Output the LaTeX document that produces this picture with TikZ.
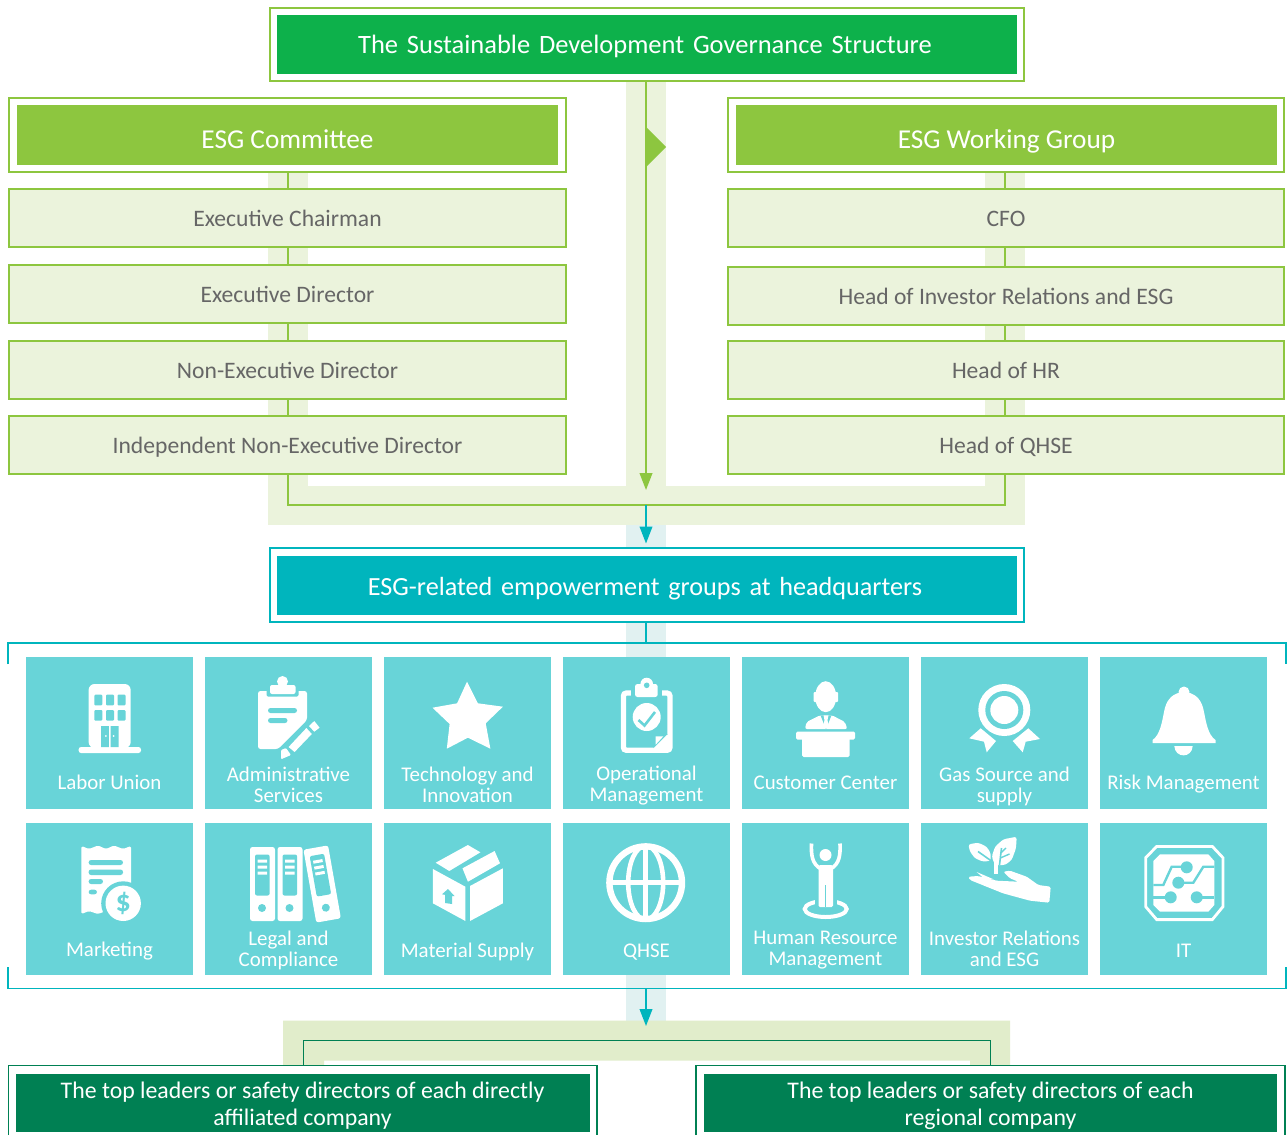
\documentclass[tikz,border=0pt]{standalone}
\usepackage{fontspec}
\setmainfont{Carlito}
\usetikzlibrary{arrows.meta}
\definecolor{govgreen}{HTML}{0DB14B}
\definecolor{limegreen}{HTML}{8DC63F}
\definecolor{rowfill}{HTML}{EBF3DC}
\definecolor{rowtext}{HTML}{666666}
\definecolor{hqteal}{HTML}{00B5BD}
\definecolor{tileteal}{HTML}{68D4D8}
\definecolor{paleteal}{HTML}{E1F1F1}
\definecolor{deepgreen}{HTML}{008053}
\definecolor{palelime}{HTML}{E1EDCB}
\tikzset{
  framebox/.style={draw,line width=2pt,fill=white,inner sep=0pt},
  headbox/.style={text=white,inner sep=0pt,align=center,text height=23pt,text depth=4.6pt,font=\fontsize{26.5}{28}\selectfont},
  lowhead/.style={text height=29pt,text depth=1.6pt,font=\fontsize{27.3}{28}\selectfont},
  rowbox/.style={draw=limegreen,line width=2pt,fill=rowfill,text=rowtext,inner sep=0pt,
    text height=20pt,text depth=4pt,minimum width=556.5pt,minimum height=58pt,font=\fontsize{23.6}{26}\selectfont},
  tilebox/.style={fill=tileteal,inner sep=0pt,minimum width=167pt,minimum height=152pt},
  tiletext/.style={text=white,inner sep=0pt,align=center,yshift=-3.3pt,font=\fontsize{20.9}{21}\selectfont,
    execute at begin node=\strut,execute at end node=\strut},
  deeptext/.style={text=white,inner sep=0pt,align=center,font=\fontsize{23.8}{27.5}\selectfont,
    execute at begin node=\strut,execute at end node=\strut},
  limeline/.style={draw=limegreen,line width=1.8pt},
  tealline/.style={draw=hqteal,line width=1.6pt},
  deepline/.style={draw=deepgreen,line width=1.6pt},
  cut/.style={fill=tileteal},
  cutline/.style={draw=tileteal,line width=2.4pt},
  iconline/.style={draw=white,line width=4.6pt}
}
\newcommand{\drawbinder}[1]{
  \begin{scope}[xshift=#1pt]
    \fill[white,rounded corners=2.5pt] (0,847) rectangle (25,921);
    \fill[cut,rounded corners=2pt] (5,854.5) rectangle (19.6,895.5);
    \fill[white] (7.5,859.5) rectangle (17,862.5) (7.5,865.5) rectangle (17,868.5) (7.5,871.5) rectangle (17,874.5);
    \fill[cut] (12,908) circle (4pt);
  \end{scope}
}
\begin{document}
\begin{tikzpicture}[x=1pt,y=-1pt,>={Stealth[length=17pt,width=12.7pt,inset=0pt]}]
  \useasboundingbox[fill=white] (0,0) rectangle (1287,1135);
  % bands
  \fill[rowfill] (626,81) rectangle (666,525);
  \fill[rowfill] (268,172) rectangle (308,525);
  \fill[rowfill] (985,172) rectangle (1025,525);
  \fill[rowfill] (268,486) rectangle (1025,525);
  \fill[paleteal] (626,525) rectangle (666,657);
  \fill[paleteal] (626,975) rectangle (666,1021);
  \fill[palelime] (283,1020.5) -- (1010,1020.5) -- (1010,1066) -- (970,1066) -- (970,1060.5) -- (324,1060.5) -- (324,1066) -- (283,1066) -- cycle;
  \fill[limegreen] (646,127) -- (666,147) -- (646,167) -- cycle;
  % headings
  \node[framebox,draw=limegreen,minimum width=754pt,minimum height=73pt] (govf) at (646.5,44.5) {};
  \node[headbox,fill=govgreen,minimum width=740pt,minimum height=59pt,text width=737pt] (gov) at (647,44.5) {\hspace*{-4pt}The Sustainable Development Governance Structure};
  \node[framebox,draw=limegreen,minimum width=556.5pt,minimum height=74pt] (esgcf) at (287.5,135) {};
  \node[headbox,lowhead,fill=limegreen,minimum width=541pt,minimum height=60pt] (esgc) at (287.5,135) {ESG Committee};
  \node[framebox,draw=limegreen,minimum width=556.5pt,minimum height=74pt] (esgwf) at (1006,135) {};
  \node[headbox,lowhead,fill=limegreen,minimum width=541pt,minimum height=60pt] (esgw) at (1006.5,135) {ESG Working Group};
  \node[framebox,draw=hqteal,minimum width=754pt,minimum height=74pt] (hqf) at (646.5,585) {};
  \node[headbox,fill=hqteal,minimum width=740pt,minimum height=59pt,text width=737pt,text height=25pt,font=\fontsize{26.2}{28}\selectfont] (hq) at (647,585.5) {\hspace*{-4pt}ESG-related empowerment groups at headquarters};
  % rows
  \node[rowbox] (chair) at (287.5,218) {Executive Chairman};
  \node[rowbox] (execd) at (287.5,294) {Executive Director};
  \node[rowbox] (nonexec) at (287.5,370) {Non-Executive Director};
  \node[rowbox] (indep) at (287.5,445) {Independent Non-Executive Director};
  \node[rowbox] (cfo) at (1006,218) {CFO};
  \node[rowbox] (invest) at (1006,296) {Head of Investor Relations and ESG};
  \node[rowbox] (hr) at (1006,370) {Head of HR};
  \node[rowbox] (qhse) at (1006,445) {Head of QHSE};
  % connectors
  \coordinate (greentip) at (646,490);
  \coordinate (joinl) at (288,505);
  \coordinate (joinm) at (646,505);
  \coordinate (joinr) at (1005,505);
  \coordinate (tealtip) at (646,543.5);
  \coordinate (brtop) at (646,643);
  \coordinate (brl) at (8,643);
  \coordinate (brr) at (1286,643);
  \coordinate (brltick) at (8,664);
  \coordinate (brrtick) at (1286,664);
  \coordinate (botl) at (8,988.5);
  \coordinate (botr) at (1286,988.5);
  \coordinate (botltick) at (8,967);
  \coordinate (botrtick) at (1286,967);
  \coordinate (botm) at (646,988.5);
  \coordinate (deeptip) at (646,1026);
  \coordinate (deepl) at (303.5,1040.5);
  \coordinate (deepr) at (990.5,1040.5);
  \coordinate (lefttop) at (303.5,1065.5);
  \coordinate (righttop) at (990.5,1065.5);
  \foreach \a/\b in {esgcf/chair,chair/execd,execd/nonexec,nonexec/indep}
    \draw[limeline] (\a.south -| joinl) -- (\b.north -| joinl);
  \foreach \a/\b in {esgwf/cfo,cfo/invest,invest/hr,hr/qhse}
    \draw[limeline] (\a.south -| joinr) -- (\b.north -| joinr);
  \draw[limeline] (indep.south -| joinl) -- (joinl) -- (joinr) -- (qhse.south -| joinr);
  \draw[limeline,->] (govf.south -| greentip) -- (greentip);
  \draw[tealline,->] (joinm) -- (tealtip);
  \draw[tealline] (hqf.south -| brtop) -- (brtop);
  \draw[tealline] (brltick) -- (brl) -- (brr) -- (brrtick);
  \draw[tealline] (botltick) -- (botl) -- (botr) -- (botrtick);
  \draw[tealline,->] (botm) -- (deeptip);
  \draw[deepline] (lefttop) -- (deepl) -- (deepr) -- (righttop);
  % bottom boxes
  \draw[deepline,fill=white] (8.5,1135) -- (8.5,1065.5) -- (597,1065.5) -- (597,1135);
  \draw[deepline,fill=white] (696,1135) -- (696,1065.5) -- (1285,1065.5) -- (1285,1135);
  \node[fill=deepgreen,inner sep=0pt,minimum width=574pt,minimum height=58pt] (leftco) at (303,1103) {};
  \node[fill=deepgreen,inner sep=0pt,minimum width=573pt,minimum height=58pt] (regco) at (990.5,1103) {};
  \node[deeptext] (leftcotext) at (302.5,1108) {The top leaders or safety directors of each directly\\affiliated company};
  \node[deeptext] (regcotext) at (990.5,1108) {The top leaders or safety directors of each\\regional company};
  % tiles
  \foreach \n/\cx/\cy/\ty/\txt in {
    labor/109.5/733/782/{Labor Union},
    admin/288.5/733/784.5/{Administrative\\Services},
    tech/467.5/733/784.5/{Technology and\\Innovation},
    oper/646.5/733/784/{Operational\\Management},
    cust/825.5/733/782/{Customer Center},
    gas/1004.5/733/785/{Gas Source and\\supply},
    risk/1183.5/733/782/{Risk Management},
    mark/109.5/899/949/{Marketing},
    legal/288.5/899/948.5/{Legal and\\Compliance},
    mat/467.5/899/950/{Material Supply},
    qh/646.5/899/950/{QHSE},
    hres/825.5/899/948.5/{Human Resource\\Management},
    inv/1004.5/899/948.5/{Investor Relations\\and ESG},
    it/1183.5/899/950/{IT}}{
    \node[tilebox] (\n) at (\cx,\cy) {};
    \node[tiletext] (\n text) at (\cx,\ty) {\txt};
  }
  % icon: building
  \fill[white,rounded corners=6pt] (88.6,748) -- (88.6,684) -- (130.7,684) -- (130.7,748) -- cycle;
  \fill[white,rounded corners=2.5pt] (78.6,747) rectangle (141,753);
  \foreach \wx in {94.3,106,117.5}
    \foreach \wy in {694.7,710}
      \fill[cut,rounded corners=1pt] (\wx,\wy) rectangle ++(8,10.6);
  \fill[cut] (101,726) rectangle (108.8,747) (110.6,726) rectangle (118.5,747);
  \fill[white] (105.8,736) circle (1pt) (113.6,736) circle (1pt);
  % icon: clipboard and pencil
  \fill[white,rounded corners=2.5pt] (258,691) -- (307,691) -- (307,720) -- (278,749) -- (258,749) -- cycle;
  \fill[cut,rounded corners=1.5pt] (266.5,686) rectangle (298.5,696.5);
  \fill[white] (282.5,681.5) circle (5.5pt);
  \fill[white,rounded corners=2pt] (270,685) rectangle (295.5,694);
  \fill[cut,rounded corners=2.5pt] (268,708) rectangle (297,713);
  \fill[cut,rounded corners=2.5pt] (268,718) rectangle (287.5,723);
  \fill[white] (288.6,747) -- (306.4,728) -- (311.8,734) -- (294.6,752) -- cycle;
  \fill[white] (309,726) -- (314.3,721) -- (319.6,727.7) -- (314.3,731.7) -- cycle;
  \fill[white,rounded corners=1pt] (281,750) -- (286,748) -- (291,755) -- (281,759.3) -- cycle;
  % icon: star
  \fill[white] (467,681.7) -- (477.9,703.3) -- (502.9,706.7) -- (485.7,723.3) -- (490.4,748.7) -- (467.9,737.7) -- (446.8,748.7) -- (449.6,724) -- (432.5,707.7) -- (457.1,703.3) -- cycle;
  % icon: clipboard with tick
  \draw[white,line width=5.3pt,rounded corners=3pt] (623.4,693) rectangle (670,750.3);
  \fill[cut] (631,686) rectangle (662,697);
  \fill[white,rounded corners=2.5pt] (635,684) rectangle (657.7,697);
  \fill[white] (646.7,684) circle (6.3pt);
  \fill[cut] (646.7,685.3) circle (2.8pt);
  \fill[white] (646.7,717) circle (14pt);
  \draw[tileteal,line width=2.6pt] (638.5,720) -- (644.5,725.5) -- (655,712);
  \fill[white] (654,734.5) rectangle (670,750.3);
  \fill[cut] (653.5,734) -- (667.5,734) -- (653.5,748) -- cycle;
  \fill[white] (655.7,736.3) -- (663.3,736.3) -- (655.7,744.7) -- cycle;
  % icon: person at desk
  \fill[white] (825.7,696.7) ellipse (10.5pt and 15.5pt);
  \fill[white,rounded corners=1pt] (813.5,692) rectangle (838,702);
  \fill[white,rounded corners=2pt] (805,729) -- (806.5,722) -- (820,715.3) -- (832,715.3) -- (845,722) -- (847.3,729) -- cycle;
  \fill[cut] (820.5,715.3) -- (831.5,715.3) -- (826,729) -- cycle;
  \fill[white] (823.5,715.3) -- (828.5,715.3) -- (827.5,720) -- (829,728) -- (823,728) -- (824.5,720) -- cycle;
  \fill[white,rounded corners=1.5pt] (796,731.5) rectangle (855,739.7);
  \fill[white,rounded corners=1.5pt] (802,737) rectangle (849.5,757);
  % icon: medal
  \fill[white] (1004.3,710) circle (26pt);
  \fill[cut] (1004.3,710) circle (19pt);
  \fill[white] (1004.3,710) circle (14pt);
  \fill[white] (969.3,738.3) -- (980.7,728.3) -- (996,741) -- (986.7,752.3) -- (984,741.7) -- cycle;
  \fill[white] (1040,739) -- (1028.3,728.3) -- (1012.7,741) -- (1022.7,752.3) -- (1025.7,741.7) -- cycle;
  % icon: bell
  \fill[white] (1152.5,743) -- (1152.5,740) .. controls (1160,735) and (1162,722) .. (1164,712) .. controls (1166,700) and (1172,695) .. (1178,693) -- (1190,693) .. controls (1196,695) and (1202,700) .. (1204,712) .. controls (1206,722) and (1208,735) .. (1215.5,740) -- (1215.5,743) -- cycle;
  \fill[white] (1184,692) circle (5.5pt);
  \fill[white] (1174.3,746) .. controls (1175,758.5) and (1192,758.5) .. (1192.7,746) -- cycle;
  % icon: receipt and coin
  \fill[white,rounded corners=1.5pt] (81.4,846) -- (89,849) -- (98,845.5) -- (106,849) -- (114,845.5) -- (123,849) -- (131,846) -- (131,914) -- (123,911) -- (114,914) -- (106,911) -- (98,914) -- (89,911) -- (81.4,914) -- cycle;
  \fill[cut,rounded corners=2.5pt] (88.6,860) rectangle (123,865) (88.6,869.5) rectangle (123,875) (88.6,879) rectangle (103,884) (88.6,889.7) rectangle (97,894.3);
  \fill[cut] (123.2,903.3) circle (22pt);
  \fill[white] (123.2,903.3) circle (17.7pt);
  \node[text=tileteal,inner sep=0pt,font=\fontsize{30}{30}\selectfont\bfseries] (dollar) at (123.2,903) {\$};
  % icon: binders
  \drawbinder{250}
  \drawbinder{277.5}
  \begin{scope}[rotate around={10:(322,883)}]
    \drawbinder{309.5}
  \end{scope}
  % icon: box
  \fill[white] (435.7,862.7) -- (467.9,845) -- (480.4,852.3) -- (449.3,871) -- cycle;
  \fill[white] (462.5,868.3) -- (494.6,851) -- (500,863.3) -- (467.9,881.7) -- cycle;
  \fill[white] (432.9,869) -- (465.4,886.7) -- (465.4,921) -- (432.9,903.3) -- cycle;
  \fill[white] (470,886) -- (502.9,868.3) -- (502.9,903.3) -- (470,921) -- cycle;
  \fill[cut] (448,889) -- (442,894.3) -- (445,894.8) -- (445,903) -- (452,904) -- (452,896) -- (454.5,896) -- cycle;
  % icon: globe
  \draw[white,line width=6.4pt] (645.7,882.7) circle (36.3pt);
  \draw[iconline] (645.7,882.7) ellipse (17.5pt and 37pt);
  \draw[iconline] (645.7,845) -- (645.7,920);
  \draw[iconline] (608,882.7) -- (683,882.7);
  % icon: person with raised arms
  \draw[white,line width=4pt] (825.7,909) ellipse (21pt and 8pt);
  \fill[cut] (815,896) rectangle (836.5,908);
  \fill[white] (825.5,855) circle (6pt);
  \fill[white,rounded corners=1.5pt] (818.5,865) rectangle (833,907);
  \draw[tileteal,line width=1pt] (825.7,885) -- (825.7,907);
  \draw[white,line width=3.6pt] (821,869) .. controls (812,864) and (811,855) .. (811.5,843.5);
  \draw[white,line width=3.6pt] (830.5,869) .. controls (839.5,864) and (840.5,855) .. (840,843.5);
  % icon: plant in hand
  \fill[white,rounded corners=2.5pt] (968.3,844.3) -- (978.3,842.7) -- (986.7,846.7) -- (990.7,853.3) -- (990.7,860.7) -- (983.3,861.7) -- (975,858.3) -- (970,851.7) -- cycle;
  \draw[tileteal,line width=1.6pt] (978,851.5) -- (990,860);
  \fill[white,rounded corners=2.5pt] (1016.7,836.7) -- (1003.3,839.3) -- (995,846.7) -- (991.7,856.7) -- (995,865) -- (1005,865) -- (1011.7,860) -- (1016,848.3) -- cycle;
  \fill[white] (994.3,860) rectangle (998.3,874);
  \draw[tileteal,line width=1.6pt] (999.5,865) -- (1001.5,848);
  \draw[tileteal,line width=1.4pt] (1000.3,858) -- (1009.5,854) (1000.8,853) -- (1006,848);
  \fill[white,rounded corners=1.5pt] (968.3,876.7) -- (970,880) -- (1003,893.3) -- (1030,900.7) -- (1049.3,902.7) -- (1050.7,886.7) -- (1038.3,885) -- (1026.7,876.7) -- (1010,870.7) -- (1003.3,871.7) -- (1010,878.3) -- (1018.3,881.7) -- (996.7,880.7) -- (978,876) -- cycle;
  \fill[white] (976.7,872) -- (994,879.5) -- (984,878.5) -- cycle;
  % icon: circuit chip
  \draw[white,line width=2.8pt] (1156.7,846.4) -- (1212.3,846.4) -- (1222.9,857.7) -- (1222.9,906.7) -- (1212.3,919.6) -- (1156.7,919.6) -- (1145.7,906.7) -- (1145.7,857.7) -- cycle;
  \fill[white] (1160,854.3) -- (1208.3,854.3) -- (1214.3,861) -- (1214.3,905) -- (1208.3,911.7) -- (1160,911.7) -- (1153.3,905) -- (1153.3,861) -- cycle;
  \draw[cutline] (1153.3,885) -- (1163.3,885) -- (1171.7,866.7) -- (1186.7,866.7);
  \draw[cutline] (1178.3,882.7) -- (1193.3,882.7) -- (1203.3,866.7) -- (1214.3,866.7);
  \draw[cutline] (1153.3,897.3) -- (1170.7,897.3);
  \draw[cutline] (1196.7,897.3) -- (1214.3,897.3);
  \fill[cut] (1186.7,867.3) circle (6pt) (1178.3,882.7) circle (6pt) (1170.7,897.3) circle (6pt) (1196.7,897.3) circle (6pt);
\end{tikzpicture}
\end{document}
